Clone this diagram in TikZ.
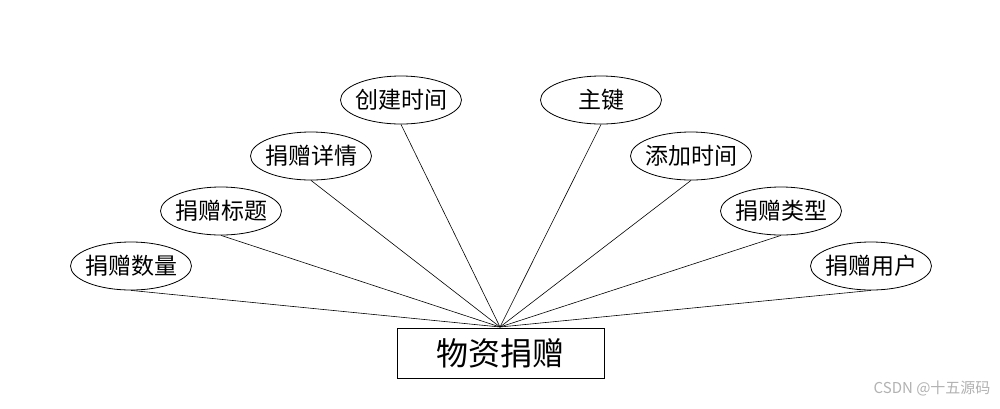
\documentclass[tikz,border=0pt]{standalone}
\usepackage{fontspec}
\newfontfamily\cjk{Noto Sans CJK SC}
\usetikzlibrary{shapes.geometric}
\begin{document}
\begin{tikzpicture}[x=1pt,y=-1pt,
  attr/.style={draw=black,line width=0.8pt,ellipse,minimum width=121pt,minimum height=48pt,inner sep=-8pt,font=\cjk\fontsize{23}{23}\selectfont},
  ent/.style={draw=black,line width=0.8pt,rectangle,minimum width=207pt,minimum height=50pt,inner sep=0pt,font=\cjk\fontsize{32}{32}\selectfont},
  link/.style={draw=black,line width=0.6pt}]
\useasboundingbox[fill=white] (0,0) rectangle (1000,408);
\node[ent] (e) at (500.5,353) {物资捐赠};
\coordinate (c) at (500,327);
\node[attr] (a1) at (401,100) {创建时间};
\node[attr] (a2) at (601,100) {主键};
\node[attr] (a3) at (311,156) {捐赠详情};
\node[attr] (a4) at (691,156) {添加时间};
\node[attr] (a5) at (221,211) {捐赠标题};
\node[attr] (a6) at (781,211) {捐赠类型};
\node[attr] (a7) at (131,266) {捐赠数量};
\node[attr] (a8) at (871,266) {捐赠用户};
\foreach \n in {a1,a2,a3,a4,a5,a6,a7,a8} \draw[link] (\n.south) -- (c);
\node[text=black!30,font=\cjk\fontsize{15}{15}\selectfont,anchor=east] (wm) at (994,388) {CSDN @十五源码};
\end{tikzpicture}
\end{document}
